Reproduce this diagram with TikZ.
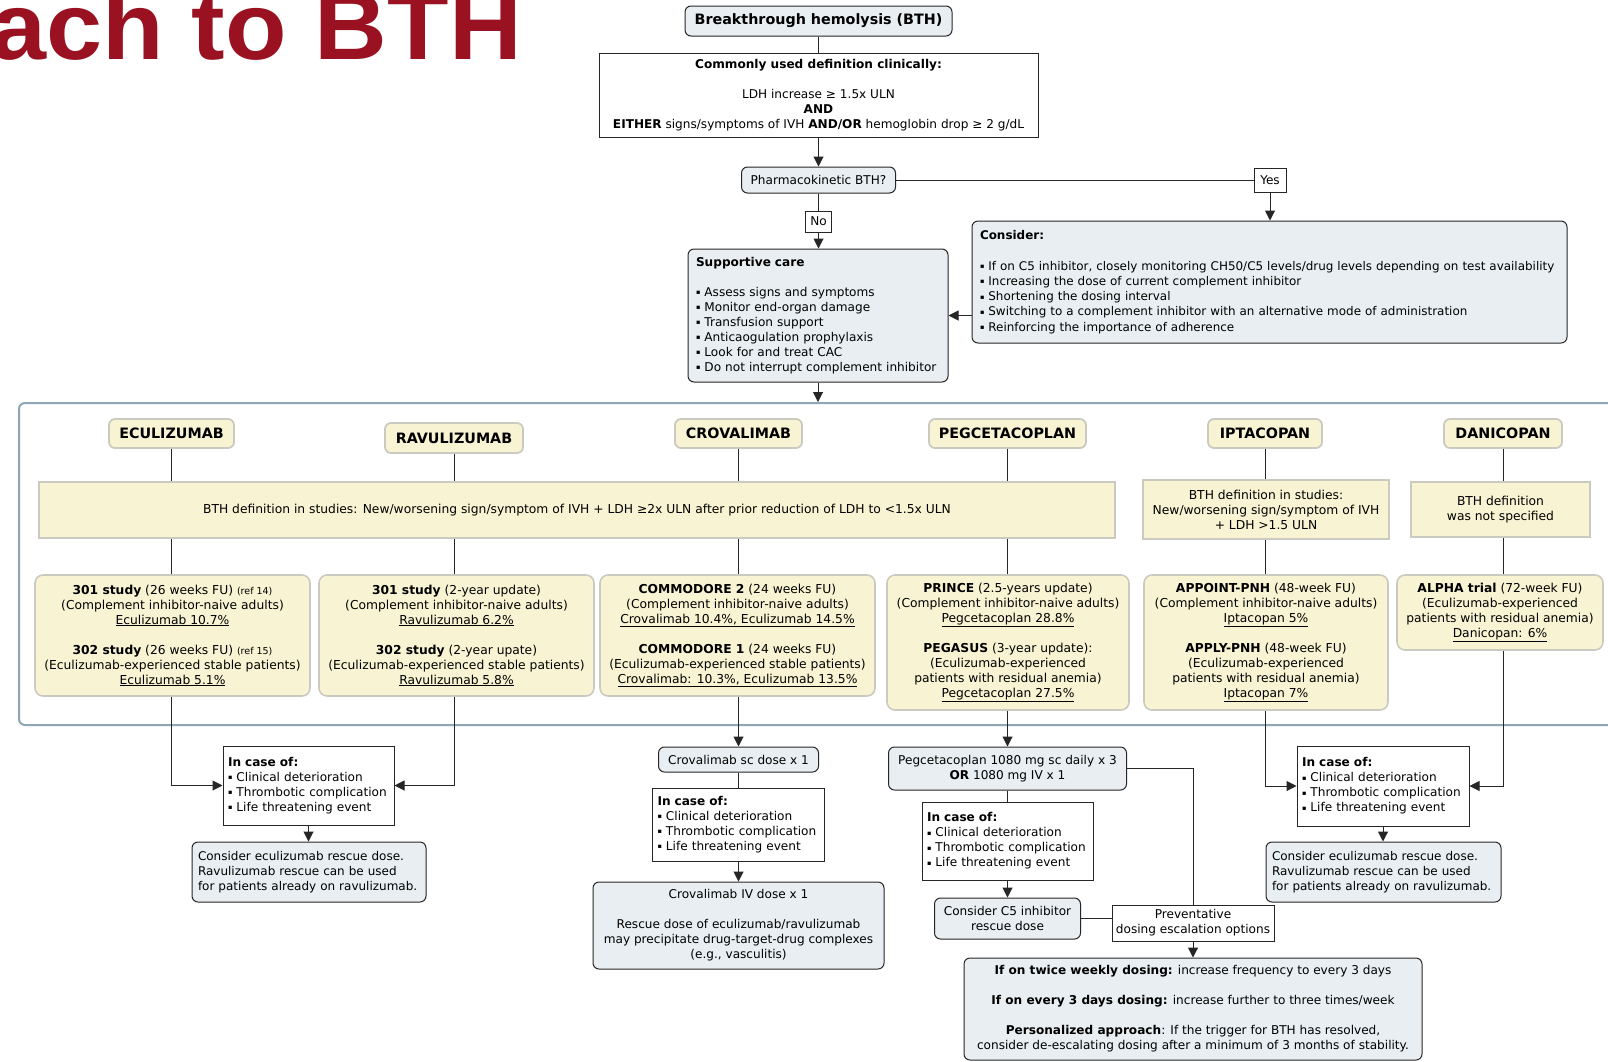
\documentclass[tikz,border=0pt]{standalone}
\usepackage{fontspec}
\setmainfont{DejaVu Sans}
\newfontfamily\titlefont{Liberation Sans}
\usetikzlibrary{arrows.meta}
\definecolor{bluefill}{HTML}{E8EEF1}
\definecolor{cream}{HTML}{F8F4D3}
\definecolor{creamline}{HTML}{CBCAC0}
\definecolor{dline}{HTML}{262626}
\definecolor{contline}{HTML}{8DA7B7}
\definecolor{titlered}{HTML}{9A1221}
\newcommand{\bul}{\raisebox{1.6pt}{\fontsize{6.5}{6.5}\selectfont ▪}\ }
\begin{document}
\begin{tikzpicture}[x=1pt,y=-1pt,
  txt/.style={font=\fontsize{12.1}{15}\selectfont, align=center, inner sep=0pt},
  blueb/.style={txt, draw=dline, fill=bluefill, rounded corners=6pt, line width=1pt},
  whiteb/.style={txt, draw=dline, fill=white, line width=1pt},
  leftb/.style={align=left, inner xsep=7pt},
  head/.style={draw=creamline, fill=cream, rounded corners=6pt, line width=1.8pt, inner sep=0pt, font=\fontsize{14.3}{17}\selectfont\bfseries},
  creambar/.style={txt, draw=creamline, fill=cream, line width=1.6pt},
  study/.style={txt, draw=creamline, fill=cream, rounded corners=8pt, line width=1.6pt, font=\fontsize{12.3}{15}\selectfont},
  conn/.style={draw=dline, line width=1pt},
  arr/.style={conn, -{Triangle[length=10pt,width=10pt]}}
]
\clip (0,0) rectangle (1608,1061);
\fill[white] (0,0) rectangle (1608,1061);

% title
\node[anchor=base east, inner sep=0pt, xscale=1.06, text=titlered, font=\titlefont\bfseries\fontsize{95}{95}\selectfont] (title) at (522,59) {ach to BTH};

% top flow
\node[blueb, font=\fontsize{14.3}{17}\selectfont\bfseries, minimum width=267, minimum height=30] (bth) at (818.5,21) {Breakthrough hemolysis (BTH)};
\node[whiteb, minimum width=439, minimum height=84] (def) at (818.5,95) {\textbf{Commonly used definition clinically:}\\[15pt]LDH increase ≥ 1.5x ULN\\\textbf{AND}\\\textbf{EITHER} signs/symptoms of IVH \textbf{AND/OR} hemoglobin drop ≥ 2 g/dL};
\node[blueb, minimum width=154, minimum height=26] (pk) at (818.5,180) {Pharmacokinetic BTH?};
\node[whiteb, minimum width=32, minimum height=24] (yes) at (1270,180) {Yes};
\node[whiteb, minimum width=26, minimum height=21] (no) at (818.5,221.5) {No};
\node[blueb, leftb, inner xsep=8pt, text width=244, minimum width=260, minimum height=133] (sup) at (818,315.5) {\textbf{Supportive care}\\[15pt]\bul Assess signs and symptoms\\\bul Monitor end-organ damage\\\bul Transfusion support\\\bul Anticaogulation prophylaxis\\\bul Look for and treat CAC\\\bul Do not interrupt complement inhibitor};
\node[blueb, leftb, inner xsep=8pt, text width=579, minimum width=595, minimum height=122, font=\fontsize{11.95}{15.3}\selectfont] (cons) at (1269.5,282) {\textbf{Consider:}\\[15.3pt]\bul If on C5 inhibitor, closely monitoring CH50/C5 levels/drug levels depending on test availability\\\bul Increasing the dose of current complement inhibitor\\\bul Shortening the dosing interval\\\bul Switching to a complement inhibitor with an alternative mode of administration\\\bul Reinforcing the importance of adherence};

\draw[conn] (bth.south) -- (bth.south |- def.north);
\draw[arr] (def.south) -- (def.south |- pk.north);
\draw[conn] (pk) -- (yes);
\draw[arr] (yes.south) -- (yes.south |- cons.north);
\draw[conn] (pk.south) -- (pk.south |- no.north);
\draw[arr] (no.south) -- (no.south |- sup.north);
\draw[arr] (sup.east -| cons.west) -- (sup.east);

% container
\node[draw=contline, line width=2pt, rounded corners=6pt, minimum width=1611, minimum height=322, inner sep=0pt] (cont) at (824.5,564) {};
\draw[arr] (sup.south) -- (sup.south |- cont.north);

% headings
\node[head, minimum width=125, minimum height=29] (eh) at (171.5,433.5) {ECULIZUMAB};
\node[head, minimum width=138, minimum height=30] (rh) at (454,438) {RAVULIZUMAB};
\node[head, minimum width=127, minimum height=29] (ch) at (738.5,433.5) {CROVALIMAB};
\node[head, minimum width=157, minimum height=29] (ph) at (1007.5,433.5) {PEGCETACOPLAN};
\node[head, minimum width=114, minimum height=29] (ih) at (1265,433.5) {IPTACOPAN};
\node[head, minimum width=118, minimum height=29] (dh) at (1503,433.5) {DANICOPAN};

% definition bars
\node[creambar, font=\fontsize{12.3}{15}\selectfont, minimum width=1076, minimum height=56] (bar) at (577,510) {BTH definition in studies: New/worsening sign/symptom of IVH + LDH ≥2x ULN after prior reduction of LDH to <1.5x ULN};
\node[creambar, font=\fontsize{12.3}{15}\selectfont, minimum width=246, minimum height=59] (idef) at (1266,509.5) {BTH definition in studies:\\New/worsening sign/symptom of IVH\\+ LDH >1.5 ULN};
\node[creambar, font=\fontsize{12.3}{15}\selectfont, minimum width=179, minimum height=55] (ddef) at (1500.5,509.5) {BTH definition\\was not specified};

% studies
\node[study, minimum width=275, minimum height=121] (es) at (172.5,635.5) {\textbf{301 study} (26 weeks FU) {\fontsize{9.5}{15}\selectfont (ref 14)}\\(Complement inhibitor-naive adults)\\\underline{Eculizumab 10.7\%}\\[15pt]\textbf{302 study} (26 weeks FU) {\fontsize{9.5}{15}\selectfont (ref 15)}\\(Eculizumab-experienced stable patients)\\\underline{Eculizumab 5.1\%}};
\node[study, minimum width=275, minimum height=121] (rs) at (456.5,635.5) {\textbf{301 study} (2-year update)\\(Complement inhibitor-naive adults)\\\underline{Ravulizumab 6.2\%}\\[15pt]\textbf{302 study} (2-year upate)\\(Eculizumab-experienced stable patients)\\\underline{Ravulizumab 5.8\%}};
\node[study, minimum width=275, minimum height=121] (cs) at (737.5,635.5) {\textbf{COMMODORE 2} (24 weeks FU)\\(Complement inhibitor-naive adults)\\\underline{Crovalimab 10.4\%, Eculizumab 14.5\%}\\[15pt]\textbf{COMMODORE 1} (24 weeks FU)\\(Eculizumab-experienced stable patients)\\\underline{Crovalimab: 10.3\%, Eculizumab 13.5\%}};
\node[study, minimum width=242, minimum height=135] (ps) at (1008,642.5) {\textbf{PRINCE} (2.5-years update)\\(Complement inhibitor-naive adults)\\\underline{Pegcetacoplan 28.8\%}\\[15pt]\textbf{PEGASUS} (3-year update):\\(Eculizumab-experienced\\patients with residual anemia)\\\underline{Pegcetacoplan 27.5\%}};
\node[study, minimum width=244, minimum height=135] (is) at (1266,642.5) {\textbf{APPOINT-PNH} (48-week FU)\\(Complement inhibitor-naive adults)\\\underline{Iptacopan 5\%}\\[15pt]\textbf{APPLY-PNH} (48-week FU)\\(Eculizumab-experienced\\patients with residual anemia)\\\underline{Iptacopan 7\%}};
\node[study, minimum width=206, minimum height=75] (ds) at (1500,612.5) {\textbf{ALPHA trial} (72-week FU)\\(Eculizumab-experienced\\patients with residual anemia)\\\underline{Danicopan: 6\%}};

\foreach \h/\s in {eh/es, rh/rs, ch/cs, ph/ps} {
  \draw[conn] (\h.south) -- (\h.south |- bar.north);
  \draw[conn] (\h.south |- bar.south) -- (\h.south |- \s.north);
}
\draw[conn] (ih.south) -- (ih.south |- idef.north);
\draw[conn] (ih.south |- idef.south) -- (ih.south |- is.north);
\draw[conn] (dh.south) -- (dh.south |- ddef.north);
\draw[conn] (dh.south |- ddef.south) -- (dh.south |- ds.north);

% lower: eculizumab / ravulizumab
\node[whiteb, leftb, inner xsep=5pt, text width=161, minimum width=171, minimum height=79] (ecase) at (308.5,785.5) {\textbf{In case of:}\\\bul Clinical deterioration\\\bul Thrombotic complication\\\bul Life threatening event};
\node[blueb, leftb, inner xsep=6pt, text width=222, minimum width=234, minimum height=60, font=\fontsize{12}{15}\selectfont] (econs) at (309,872) {Consider eculizumab rescue dose.\\Ravulizumab rescue can be used\\for patients already on ravulizumab.};
\draw[arr] (eh.south |- es.south) |- (ecase.west);
\draw[arr] (rh.south |- rs.south) |- (ecase.east);
\draw[arr] (ecase.south) -- (ecase.south |- econs.north);

% crovalimab
\node[blueb, minimum width=160, minimum height=25] (csc) at (738.5,759.5) {Crovalimab sc dose x 1};
\node[whiteb, leftb, inner xsep=5pt, text width=162, minimum width=172, minimum height=73] (ccase) at (738.5,824.5) {\textbf{In case of:}\\\bul Clinical deterioration\\\bul Thrombotic complication\\\bul Life threatening event};
\node[blueb, minimum width=291, minimum height=87] (civ) at (738.5,925.5) {Crovalimab IV dose x 1\\[15pt]Rescue dose of eculizumab/ravulizumab\\may precipitate drug-target-drug complexes\\(e.g., vasculitis)};
\draw[arr] (ch.south |- cs.south) -- (ch.south |- csc.north);
\draw[conn] (csc.south) -- (csc.south |- ccase.north);
\draw[arr] (ccase.south) -- (ccase.south |- civ.north);

% pegcetacoplan
\node[blueb, minimum width=238, minimum height=43] (pbox) at (1007.5,768.5) {Pegcetacoplan 1080 mg sc daily x 3\\\textbf{OR} 1080 mg IV x 1};
\node[whiteb, leftb, inner xsep=5pt, text width=161, minimum width=171, minimum height=78] (pcase) at (1007.5,841) {\textbf{In case of:}\\\bul Clinical deterioration\\\bul Thrombotic complication\\\bul Life threatening event};
\node[blueb, minimum width=146, minimum height=41] (c5) at (1007.5,918.5) {Consider C5 inhibitor\\rescue dose};
\node[whiteb, minimum width=162, minimum height=36] (prev) at (1193,923) {Preventative\\dosing escalation options};
\node[blueb, minimum width=458, minimum height=102] (bot) at (1193,1009) {\textbf{If on twice weekly dosing:} increase frequency to every 3 days\\[15pt]\textbf{If on every 3 days dosing:} increase further to three times/week\\[15pt]\textbf{Personalized approach}: If the trigger for BTH has resolved,\\consider de-escalating dosing after a minimum of 3 months of stability.};
\draw[arr] (ph.south |- ps.south) -- (ph.south |- pbox.north);
\draw[conn] (pbox.south) -- (pbox.south |- pcase.north);
\draw[arr] (pcase.south) -- (pcase.south |- c5.north);
\draw[conn] (pbox.east) -| (prev.north);
\draw[conn] (c5.east) -- (c5.east -| prev.west);
\draw[arr] (prev.south) -- (prev.south |- bot.north);

% iptacopan / danicopan
\node[whiteb, leftb, inner xsep=5pt, text width=162, minimum width=172, minimum height=80] (icase) at (1383,786) {\textbf{In case of:}\\\bul Clinical deterioration\\\bul Thrombotic complication\\\bul Life threatening event};
\node[blueb, leftb, inner xsep=6pt, text width=223, minimum width=235, minimum height=60, font=\fontsize{12}{15}\selectfont] (icons) at (1383.5,872) {Consider eculizumab rescue dose.\\Ravulizumab rescue can be used\\for patients already on ravulizumab.};
\draw[arr] (ih.south |- is.south) |- (icase.west);
\draw[arr] (dh.south |- ds.south) |- (icase.east);
\draw[arr] (icase.south) -- (icase.south |- icons.north);
\end{tikzpicture}
\end{document}
